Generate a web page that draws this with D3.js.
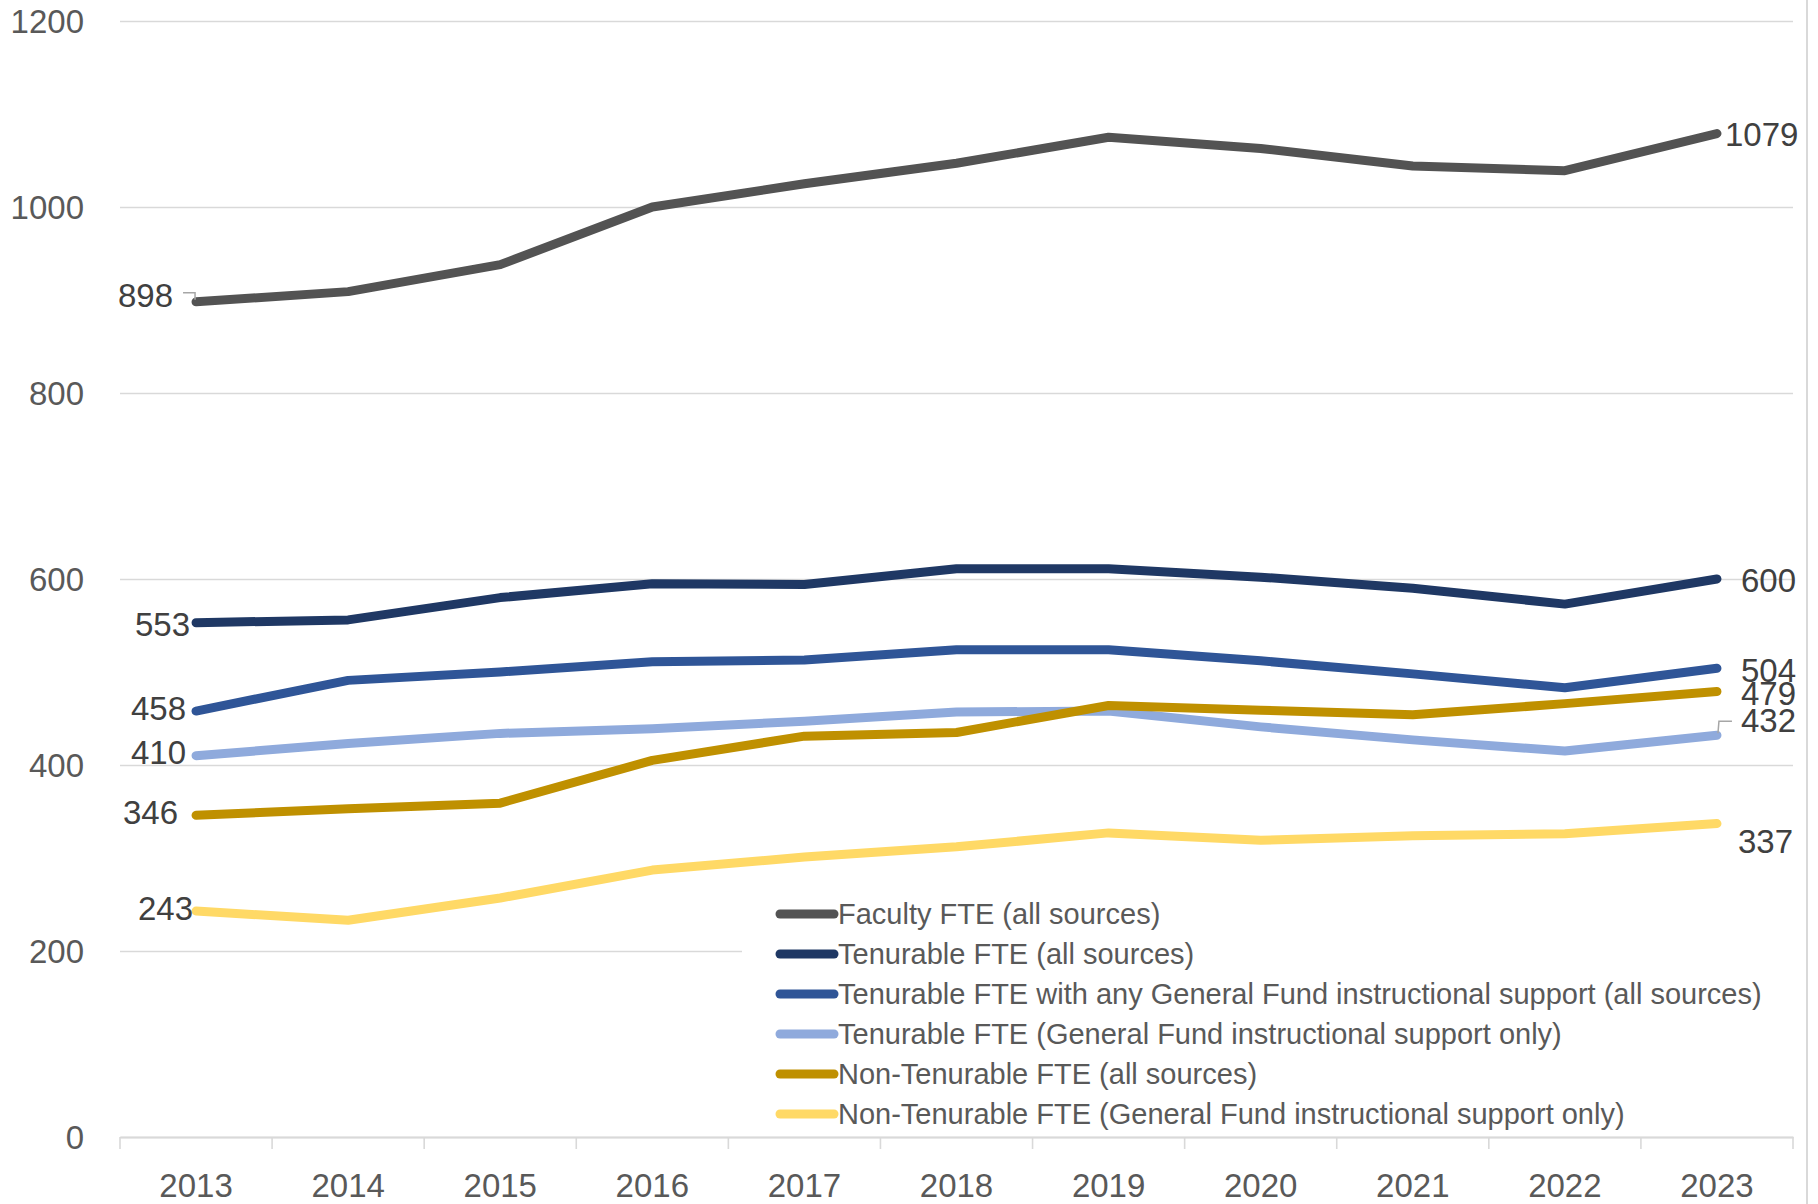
<!DOCTYPE html>
<html>
<head>
<meta charset="utf-8">
<script src="https://cdn.jsdelivr.net/npm/d3@7"></script>
<style>
  html, body { margin: 0; padding: 0; background: #fff; }
  svg text { font-family: "Liberation Sans", Arial, sans-serif; }
</style>
</head>
<body>
<svg id="chart" width="1818" height="1204"></svg>
<script>
const years = ["2013","2014","2015","2016","2017","2018","2019","2020","2021","2022","2023"];
const yTicks = [0, 200, 400, 600, 800, 1000, 1200];

const seriesNames = [
    "Faculty FTE (all sources)",
    "Tenurable FTE (all sources)",
    "Tenurable FTE with any General Fund instructional support (all sources)",
    "Tenurable FTE (General Fund instructional support only)",
    "Non-Tenurable FTE (all sources)",
    "Non-Tenurable FTE (General Fund instructional support only)"
];
const seriesColors = ["#535353", "#1f3864", "#2f5597", "#8faadc", "#bf9000", "#ffd966"];

const facultyAll = [898, 909, 938, 1000, 1025, 1047, 1075, 1063, 1044, 1039, 1079];
const tenurableAll = [553, 556, 580, 595, 594, 611, 611, 602, 590, 573, 600];
const tenurableAnyGF = [458, 491, 500, 511, 513, 524, 524, 512, 498, 483, 504];
const tenurableGFOnly = [410, 423, 434, 439, 447, 457, 458, 441, 427, 415, 432];
const nonTenurableAll = [346, 353, 359, 405, 431, 435, 464, 459, 454, 466, 479];
const nonTenurableGF = [243, 233, 257, 287, 301, 312, 327, 319, 324, 326, 337];

const seriesValues = [facultyAll, tenurableAll, tenurableAnyGF, tenurableGFOnly, nonTenurableAll, nonTenurableGF];

//label nudges (first point / last point), in px
const firstLabelShift = [[-23, -7], [-6, 1], [-10, -3], [-10, -4], [-18, -3], [-3, -3]];
const lastLabelShift = [[8, 1], [24, 1], [24, 2], [24, -15], [24, 1.5], [21, 18]];

const svg = d3.select("#chart");
const plotLeft = 120, plotRight = 1793, plotTop = 21, plotBottom = 1137;

const x = d3.scaleBand().domain(years).range([plotLeft, plotRight]);
const y = d3.scaleLinear().domain([0, 1200]).range([plotBottom, plotTop]);
const cx = d => x(d) + x.bandwidth() / 2;

svg.append("rect").attr("width", 1818).attr("height", 1204).attr("fill", "#fff");

//chart border on the right
svg.append("line")
    .attr("x1", 1807).attr("x2", 1807).attr("y1", 0).attr("y2", 1204)
    .attr("stroke", "#d9d9d9").attr("stroke-width", 2);

//y axis + gridlines
const yAxis = svg.append("g")
    .attr("transform", `translate(${plotLeft},0)`)
    .call(d3.axisLeft(y).tickValues(yTicks).tickFormat(d3.format("d"))
        .tickSize(-(plotRight - plotLeft)).tickPadding(36));
yAxis.select(".domain").remove();
yAxis.selectAll(".tick line").attr("stroke", "#d9d9d9").attr("stroke-width", 1.6);
yAxis.selectAll(".tick text")
    .attr("fill", "#595959").attr("font-size", 33).attr("dy", "0.36em");

//x axis
const xAxis = svg.append("g")
    .attr("transform", `translate(0,${plotBottom})`)
    .call(d3.axisBottom(x).tickSize(0).tickPadding(36));
xAxis.select(".domain").attr("stroke", "#d9d9d9").attr("stroke-width", 2);
xAxis.selectAll(".tick text")
    .attr("fill", "#595959").attr("font-size", 33).attr("dy", "0.36em").attr("y", 48);

const boundaries = years.map(d => x(d)).concat([plotRight]);
svg.append("g").selectAll("line").data(boundaries).join("line")
    .attr("x1", d => d).attr("x2", d => d)
    .attr("y1", plotBottom).attr("y2", plotBottom + 12)
    .attr("stroke", "#d9d9d9").attr("stroke-width", 1.6);

//lines
const line = d3.line().x((d, i) => cx(years[i])).y(d => y(d));

svg.append("g").selectAll("path")
    .data(seriesValues)
    .join("path")
    .attr("d", d => line(d))
    .attr("fill", "none")
    .attr("stroke", (d, i) => seriesColors[i])
    .attr("stroke-width", 9)
    .attr("stroke-linecap", "round")
    .attr("stroke-linejoin", "round");

//leader lines
const x0 = cx(years[0]), xN = cx(years[years.length - 1]);
svg.append("path")
    .attr("d", `M${x0 - 13},${y(facultyAll[0]) - 9}H${x0 - 1}V${y(facultyAll[0]) - 2}`)
    .attr("fill", "none").attr("stroke", "#a6a6a6").attr("stroke-width", 1.5);
svg.append("path")
    .attr("d", `M${xN + 1},${y(tenurableGFOnly[10]) - 2}L${xN + 2},${y(tenurableGFOnly[10]) - 14}H${xN + 15}`)
    .attr("fill", "none").attr("stroke", "#a6a6a6").attr("stroke-width", 1.5);

//data labels
const labels = svg.append("g").attr("font-size", 33).attr("fill", "#404040");
seriesValues.forEach((vals, i) => {
    labels.append("text")
        .attr("x", x0 + firstLabelShift[i][0])
        .attr("y", y(vals[0]) + firstLabelShift[i][1])
        .attr("dy", "0.36em")
        .attr("text-anchor", "end")
        .text(vals[0]);
    labels.append("text")
        .attr("x", xN + lastLabelShift[i][0])
        .attr("y", y(vals[vals.length - 1]) + lastLabelShift[i][1])
        .attr("dy", "0.36em")
        .attr("text-anchor", "start")
        .text(vals[vals.length - 1]);
});

//legend
const legend = svg.append("g");
legend.append("rect")
    .attr("x", 742).attr("y", 892).attr("width", plotRight - 742).attr("height", 240)
    .attr("fill", "#fff");
const legendRows = legend.selectAll("g.item")
    .data(seriesNames)
    .join("g")
    .attr("class", "item")
    .attr("transform", (d, i) => `translate(0,${914 + i * 40})`);
legendRows.append("line")
    .attr("x1", 780).attr("x2", 834).attr("y1", 0).attr("y2", 0)
    .attr("stroke", (d, i) => seriesColors[i])
    .attr("stroke-width", 9)
    .attr("stroke-linecap", "round");
legendRows.append("text")
    .attr("x", 838).attr("y", 0).attr("dy", "0.36em")
    .attr("font-size", 29).attr("fill", "#595959")
    .text(d => d);
</script>
</body>
</html>
